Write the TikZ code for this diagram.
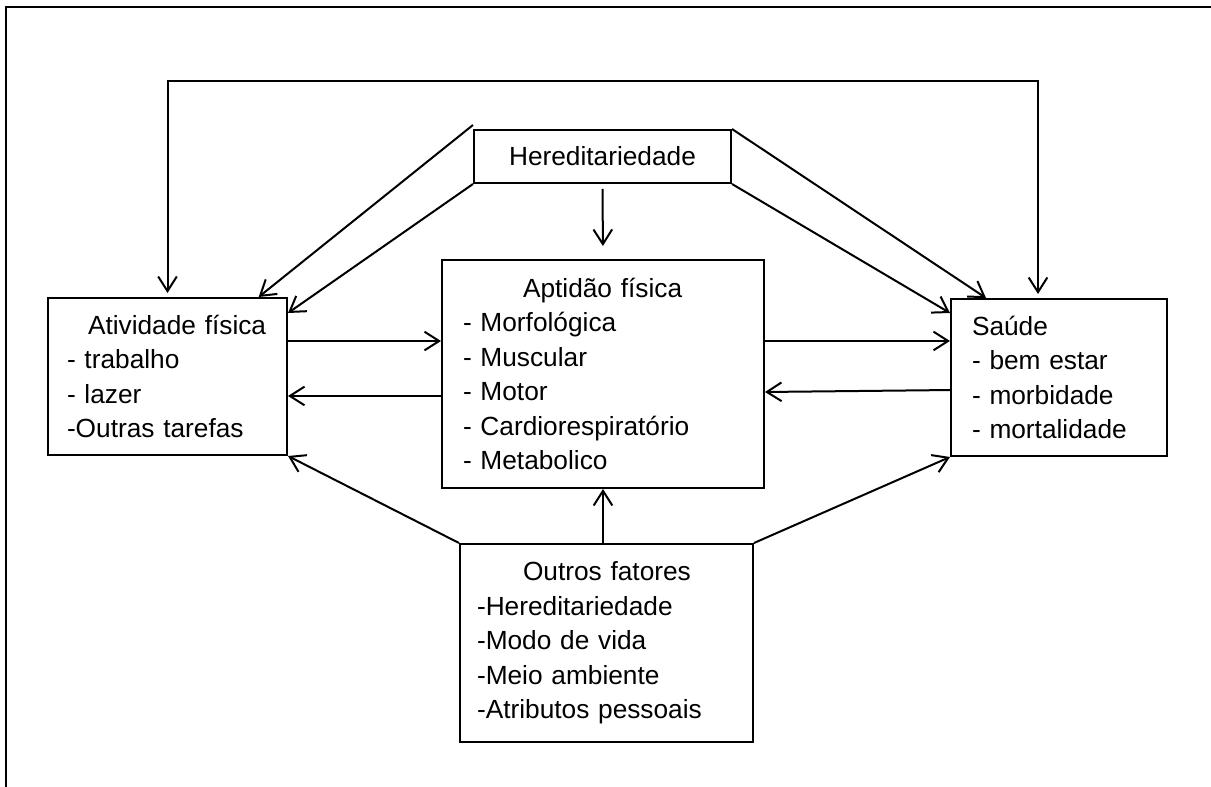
\documentclass[tikz,border=0pt]{standalone}
\usepackage{fontspec}
\setmainfont{Liberation Sans}
\usetikzlibrary{arrows.meta}

\begin{document}
\begin{tikzpicture}[
    x=0.75pt, y=-0.75pt,
    >={Straight Barb[length=11pt, width=14pt]},
    box/.style={rectangle, draw, line width=1.5pt, align=left, inner ysep=0pt, font=\fontsize{19.7}{25.9}\selectfont},
    link/.style={->, line width=1.5pt}
]
\useasboundingbox (0,0) rectangle (1211,787);
\draw[line width=1.8pt] (6,787) -- (6,7) -- (1211,7);

\node[box, align=center, minimum width=192.75pt, minimum height=39.75pt] (hered) at (602.5,156.5) {Hereditariedade};
\node[box, text width=150.75pt, inner xsep=14.25pt, minimum height=117.75pt] (act) at (167.5,376.5)
    {\hspace*{15.75pt}Atividade física\\- trabalho\\- lazer\\-Outras tarefas};
\node[box, text width=210pt, inner xsep=15.75pt, minimum height=171pt] (apt) at (603,374)
    {\hspace*{45pt}Aptidão física\\- Morfológica\\- Muscular\\- Motor\\- Cardiorespiratório\\- Metabolico};
\node[box, text width=130.5pt, inner xsep=15.75pt, minimum height=117.75pt] (sau) at (1059,377.5)
    {Saúde\\- bem estar\\- morbidade\\- mortalidade};
\node[box, text width=194.25pt, inner xsep=12.75pt, minimum height=148.5pt] (outros) at (606.5,643)
    {\hspace*{34.5pt}Outros fatores\\-Hereditariedade\\-Modo de vida\\-Meio ambiente\\-Atributos pessoais};

\coordinate (loopL) at (167.5,81);
\coordinate (loopR) at (1038,81);

% laço superior
\draw[<->, line width=1.5pt, shorten <=3pt, shorten >=3pt] (act.north) -- (loopL) -- (loopR) -- (loopR |- sau.north);

% hereditariedade
\draw[link] ([yshift=3pt]hered.north west) -- ([xshift=-22pt]act.north east);
\draw[link] (hered.south west) -- ([yshift=-12pt]act.north east);
\draw[link] (hered.north east) -- ([xshift=27pt]sau.north west);
\draw[link] (hered.south east) -- ([yshift=-11.25pt]sau.north west);
\draw[link, shorten <=3.75pt, shorten >=9.75pt] (hered.south) -- (apt.north);

% trocas horizontais
\draw[link] ([yshift=26.6pt]act.east) -- ([yshift=26.6pt]act.east -| apt.west);
\draw[link] ([yshift=-14.6pt]act.east -| apt.west) -- ([yshift=-14.6pt]act.east);
\draw[link] ([yshift=27.4pt]sau.west -| apt.east) -- ([yshift=27.4pt]sau.west);
\draw[link] ([yshift=-9.4pt]sau.west) -- ([yshift=-13.5pt]apt.east);

% outros fatores
\draw[link] (outros.north west) -- (act.south east);
\draw[link] (apt.south |- outros.north) -- (apt.south);
\draw[link] (outros.north east) -- (sau.south west);
\end{tikzpicture}
\end{document}
